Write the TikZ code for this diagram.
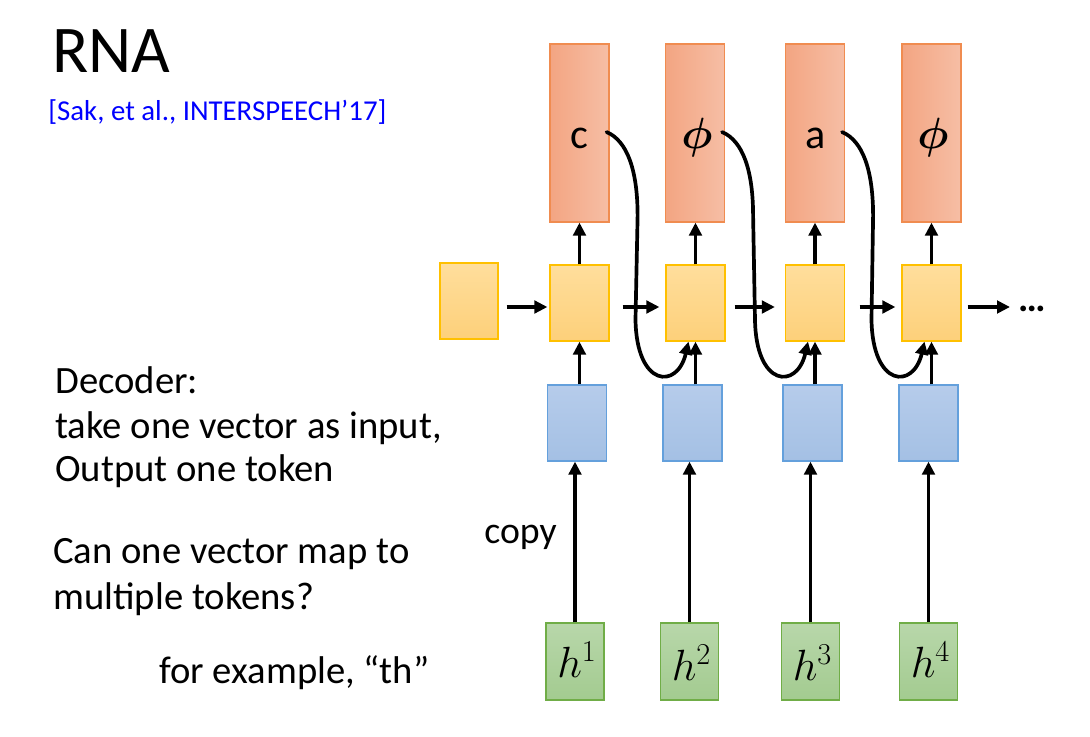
\documentclass[tikz,border=0pt]{standalone}
\usepackage{fontspec}
\setmainfont{Carlito}
\usepackage{bm}
\usetikzlibrary{arrows.meta,calc}
\definecolor{oedge}{RGB}{240,140,80}
\definecolor{oleft}{RGB}{243,165,130}
\definecolor{oright}{RGB}{246,190,165}
\definecolor{yedge}{RGB}{255,192,0}
\definecolor{ytop}{RGB}{255,222,156}
\definecolor{ybot}{RGB}{253,208,122}
\definecolor{bedge}{RGB}{100,160,220}
\definecolor{btop}{RGB}{182,204,235}
\definecolor{bbot}{RGB}{164,192,228}
\definecolor{gedge}{RGB}{112,173,71}
\definecolor{gtop}{RGB}{184,215,170}
\definecolor{gbot}{RGB}{163,203,144}
\definecolor{cite}{RGB}{0,0,255}
\begin{document}
\begin{tikzpicture}[x=0.02cm,y=-0.02cm,
  box/.style={minimum width=1.18cm, minimum height=1.52cm, inner sep=0pt, line width=0.7pt},
  obox/.style={box, minimum height=3.56cm, draw=oedge, left color=oleft, right color=oright},
  ybox/.style={box, draw=yedge, top color=ytop, bottom color=ybot},
  bbox/.style={box, draw=bedge, top color=btop, bottom color=bbot},
  gbox/.style={box, minimum width=1.16cm, minimum height=1.54cm, draw=gedge, top color=gtop, bottom color=gbot},
  arr/.style={line width=2.1pt, -{Triangle[length=0.26cm,width=0.25cm]}},
  curve/.style={arr, line cap=round},
  lab/.style={anchor=base, inner sep=0pt, font=\fontsize{24}{28}\selectfont},
  plab/.style={anchor=base, inner sep=0pt, font=\fontsize{27}{31}\selectfont},
  hlab/.style={anchor=base, inner sep=0pt, font=\fontsize{23}{27}\selectfont},
  txt/.style={anchor=base west, inner sep=0pt, font=\fontsize{22}{26}\selectfont},
]
\useasboundingbox (0,0) rectangle (1090,737);

% titles
\node[anchor=base west, inner sep=0pt, font=\fontsize{38}{45}\selectfont] (title) at (52,72) {RNA};
\node[anchor=base west, inner sep=0pt, text=cite, font=\fontsize{16.4}{20}\selectfont] (ref) at (48,120) {[Sak, et al., INTERSPEECH’17]};

\node[txt] (t1) at (55,393) {Decoder:};
\node[txt] (t2) at (55,438) {take one vector as input,};
\node[txt] (t3) at (55,481) {Output one token};
\node[txt] (t4) at (53,563) {Can one vector map to};
\node[txt] (t5) at (53,609) {multiple tokens?};
\node[txt] (t6) at (159,683) {for example, “th”};
\node[txt, font=\fontsize{21.5}{25}\selectfont] (copy) at (484,543) {copy};

% boxes
\node[obox] (o1) at (579.5,133) {};
\node[obox] (o2) at (695,133) {};
\node[obox] (o3) at (815,133) {};
\node[obox] (o4) at (931.5,133) {};
\node[lab] (c1) at (579.5,148) {c};
\node[plab] (c2) at (697,148) {$\bm{\phi}$};
\node[lab] (c3) at (816,148) {a};
\node[plab] (c4) at (933,148) {$\bm{\phi}$};

\node[ybox, minimum width=1.16cm] (y0) at (469,301) {};
\node[ybox] (y1) at (579.5,303) {};
\node[ybox] (y2) at (695.5,303) {};
\node[ybox] (y3) at (815,303) {};
\node[ybox] (y4) at (931.5,303) {};

\node[bbox] (b1) at (577,423) {};
\node[bbox] (b2) at (692.5,423) {};
\node[bbox] (b3) at (812.5,423) {};
\node[bbox] (b4) at (928.5,423) {};

\node[gbox] (g1) at (575,661.5) {};
\node[gbox] (g2) at (689.5,661.5) {};
\node[gbox] (g3) at (810.5,661.5) {};
\node[gbox] (g4) at (928.5,661.5) {};
\node[hlab] (h1) at (577,677) {$h^1$};
\node[hlab] (h2) at (691.5,680) {$h^2$};
\node[hlab] (h3) at (812.5,680) {$h^3$};
\node[hlab] (h4) at (930.5,677) {$h^4$};

\node[anchor=base west, inner sep=0pt, font=\fontsize{22}{26}\selectfont\bfseries] (dots) at (1018,311) {…};

% vertical arrows
\foreach \i in {1,2,3,4}{
  \draw[arr] (g\i.north) -- (g\i.north |- b\i.south);
  \draw[arr] (y\i.south |- b\i.north) -- (y\i.south);
  \draw[arr] (y\i.north) -- (y\i.north |- o\i.south);
}

% horizontal arrows
\draw[arr] ($(y0.east |- y1.east)+(8,4)$) -- ($(y1.west)+(-2,4)$);
\draw[arr] ($(y1.east)+(13,4)$) -- ($(y2.west)+(-6,4)$);
\draw[arr] ($(y2.east)+(9,4)$) -- ($(y3.west)+(-10,4)$);
\draw[arr] ($(y3.east)+(14.5,4)$) -- ($(y4.west)+(-6,4)$);
\draw[arr] ($(y4.east)+(6,4)$) -- ($(dots.west |- y4.east)+(-8,4)$);

% feedback curves
\foreach \a/\b in {1/2,2/3,3/4}{
  \coordinate (s\a) at ($(o\a.east)+(-3,-1)$);
  \coordinate (e\a) at ($(y\b.south)+(-7,0)$);
  \draw[curve] (s\a) .. controls ($(s\a)+(21,9)$) and ($(s\a)+(31,39)$) .. ($(s\a)+(31,84)$)
     -- ($(e\a)+(-53,-22)$) .. controls ($(e\a)+(-52,46)$) and ($(e\a)+(-11,48)$) .. (e\a);
}
\end{tikzpicture}
\end{document}
